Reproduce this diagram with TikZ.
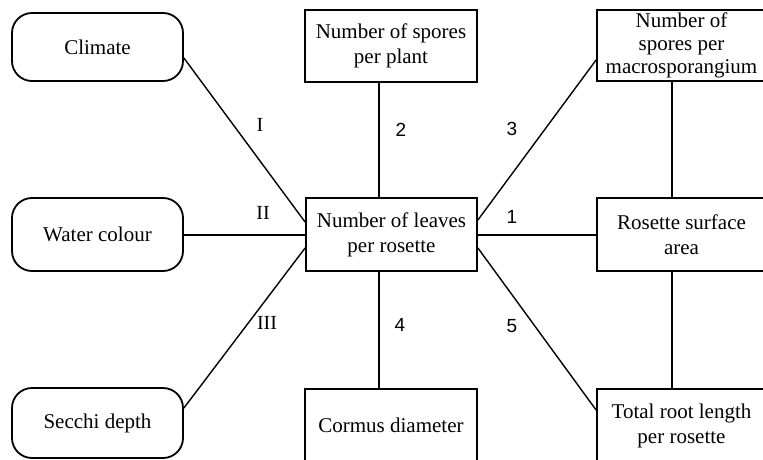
\documentclass[tikz,border=0pt]{standalone}
\usepackage{fontspec}
\setmainfont{Liberation Serif}
\newfontfamily\digitfont{Liberation Sans}
\usetikzlibrary{positioning}

\begin{document}
\begin{tikzpicture}[x=1pt, y=-1pt,
        every node/.style={align=center, inner sep=0pt, font=\fontsize{21}{25}\selectfont},
        factor/.style={draw, rounded corners=20pt, line width=1.8pt, minimum width=171pt},
        trait/.style={draw, line width=1.8pt, minimum width=172pt, minimum height=72pt},
        link/.style={line width=2pt},
        slant/.style={line width=1.4pt},
        roman/.style={font=\fontsize{20}{24}\selectfont},
        digit/.style={font=\digitfont\fontsize{19}{23}\selectfont}
    ]
    \useasboundingbox[fill=white] (0,0) rectangle (763,460);

    % Environment factors (left)
    \node (climate)[factor, minimum height=68pt] at (97.5,47) {Climate};
    \node (water)[factor, minimum height=73pt] at (97.5,234.5) {Water colour};
    \node (secchi)[factor, minimum height=70pt] at (97.5,423) {Secchi depth};

    % Plant traits
    \node (leaves)[trait, minimum width=171pt, minimum height=73pt] at (391.5,234.5) {Number of leaves\\per rosette};
    \node (plant)[trait] at (391,46) {Number of spores\\per plant};
    \node (cormus)[trait, minimum height=73pt] at (391,425.5) {Cormus diameter};
    \node (macro)[trait, minimum width=169pt, minimum height=71pt, font=\fontsize{21}{23}\selectfont] at (681.5,45.5) {Number of\\spores per\\macrosporangium};
    \node (rosette)[trait, minimum width=169pt, minimum height=73pt] at (681.5,234.5) {Rosette surface\\area};
    \node (root)[trait, minimum width=169pt, minimum height=73pt] at (681.5,425.5) {Total root length\\per rosette};

    % Connectors
    \draw[slant] (climate.east |- 0,58) -- (leaves.west |- 0,222);
    \draw[link] (water.east) -- (leaves.west);
    \draw[slant] (secchi.east |- 0,408) -- (leaves.west |- 0,248);
    \draw[link] (plant.south -| 379,0) -- (leaves.north -| 379,0);
    \draw[link] (leaves.south -| 379,0) -- (cormus.north -| 379,0);
    \draw[slant] (leaves.east |- 0,220) -- (macro.west |- 0,60);
    \draw[link] (leaves.east) -- (rosette.west);
    \draw[slant] (leaves.east |- 0,248) -- (root.west |- 0,410);
    \draw[link] (macro.south -| 672,0) -- (rosette.north -| 672,0);
    \draw[link] (rosette.south -| 672,0) -- (root.north -| 672,0);

    % Labels
    \node (tagI)[roman] at (260,125) {I};
    \node (tagII)[roman] at (263,213) {II};
    \node (tagIII)[roman] at (267,323) {III};
    \node (tag2)[digit] at (401,130) {2};
    \node (tag3)[digit] at (512,129) {3};
    \node (tag1)[digit] at (512,217) {1};
    \node (tag4)[digit] at (400,325) {4};
    \node (tag5)[digit] at (512,326) {5};
\end{tikzpicture}
\end{document}
